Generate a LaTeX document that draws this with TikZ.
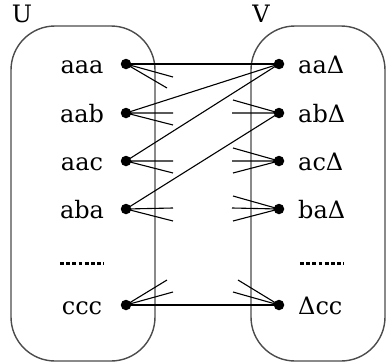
\documentclass[tikz,border=0pt]{standalone}
\usepackage{fontspec}
\setmainfont{DejaVu Serif}
\begin{document}
\begin{tikzpicture}[x=1pt,y=-1pt,
  setbox/.style={draw=black!70,line width=1.4pt,rounded corners=44pt},
  dotnode/.style={circle,fill=black,inner sep=0pt,minimum size=10.5pt},
  lab/.style={font=\fontsize{24}{27}\selectfont,inner sep=0pt},
  conn/.style={line width=1.1pt},
  ell/.style={line width=3pt,dash pattern=on 3.7pt off 2.5pt}]
\useasboundingbox (0,0) rectangle (386,364);
\draw[setbox] (11,26) rectangle (155,361);
\draw[setbox] (251,26) rectangle (385,361);
\node[lab,anchor=base] (U) at (22,22) {U};
\node[lab,anchor=base] (V) at (261,22) {V};
% left dots
\node[dotnode] (l1) at (126,64) {};
\node[dotnode] (l2) at (126,113) {};
\node[dotnode] (l3) at (126,161) {};
\node[dotnode] (l4) at (126,209) {};
\node[dotnode] (l5) at (126,305) {};
% right dots
\node[dotnode] (r1) at (279,64) {};
\node[dotnode] (r2) at (279,113) {};
\node[dotnode] (r3) at (279,161) {};
\node[dotnode] (r4) at (279,209) {};
\node[dotnode] (r5) at (279,305) {};
% labels
\node[lab,anchor=base] (t1) at (82,73) {aaa};
\node[lab,anchor=base] (t2) at (82,122) {aab};
\node[lab,anchor=base] (t3) at (82,170) {aac};
\node[lab,anchor=base] (t4) at (82,218) {aba};
\node[lab,anchor=base] (t5) at (82,314) {ccc};
\node[lab,anchor=base west] (s1) at (298,73) {aaΔ};
\node[lab,anchor=base west] (s2) at (298,122) {abΔ};
\node[lab,anchor=base west] (s3) at (298,170) {acΔ};
\node[lab,anchor=base west] (s4) at (298,218) {baΔ};
\node[lab,anchor=base west] (s5) at (298,314) {Δcc};
% ellipses
\coordinate (el1) at (60,263); \coordinate (el2) at (104,263);
\coordinate (er1) at (300,263); \coordinate (er2) at (344,263);
\draw[ell] (el1) -- (el2);
\draw[ell] (er1) -- (er2);
% full connectors
\draw[conn] (l1.center) -- (r1.center);
\draw[conn] (l2.center) -- (r1.center);
\draw[conn] (l3.center) -- (r1.center);
\draw[conn] (l4.center) -- (r2.center);
\draw[conn] (l5.center) -- (r5.center);
% left stubs
\coordinate (a1) at (173,77); \coordinate (a2) at (167,88);
\coordinate (b1) at (173,113); \coordinate (b2) at (173,125);
\coordinate (c1) at (173,161); \coordinate (c2) at (173,173);
\coordinate (d1) at (173,208); \coordinate (d2) at (173,221);
\coordinate (e1) at (167,280); \coordinate (e2) at (173,292);
\draw[conn] (l1.center) -- (a1) (l1.center) -- (a2);
\draw[conn] (l2.center) -- (b1) (l2.center) -- (b2);
\draw[conn] (l3.center) -- (c1) (l3.center) -- (c2);
\draw[conn] (l4.center) -- (d1) (l4.center) -- (d2);
\draw[conn] (l5.center) -- (e1) (l5.center) -- (e2);
% right stubs
\coordinate (f1) at (233,100); \coordinate (f2) at (232,113);
\coordinate (g1) at (233,148); \coordinate (g2) at (232,161); \coordinate (g3) at (233,173);
\coordinate (h1) at (233,196); \coordinate (h2) at (232,208); \coordinate (h3) at (233,221);
\coordinate (k1) at (238,280); \coordinate (k2) at (233,292);
\draw[conn] (r2.center) -- (f1) (r2.center) -- (f2);
\draw[conn] (r3.center) -- (g1) (r3.center) -- (g2) (r3.center) -- (g3);
\draw[conn] (r4.center) -- (h1) (r4.center) -- (h2) (r4.center) -- (h3);
\draw[conn] (r5.center) -- (k1) (r5.center) -- (k2);
\end{tikzpicture}
\end{document}
